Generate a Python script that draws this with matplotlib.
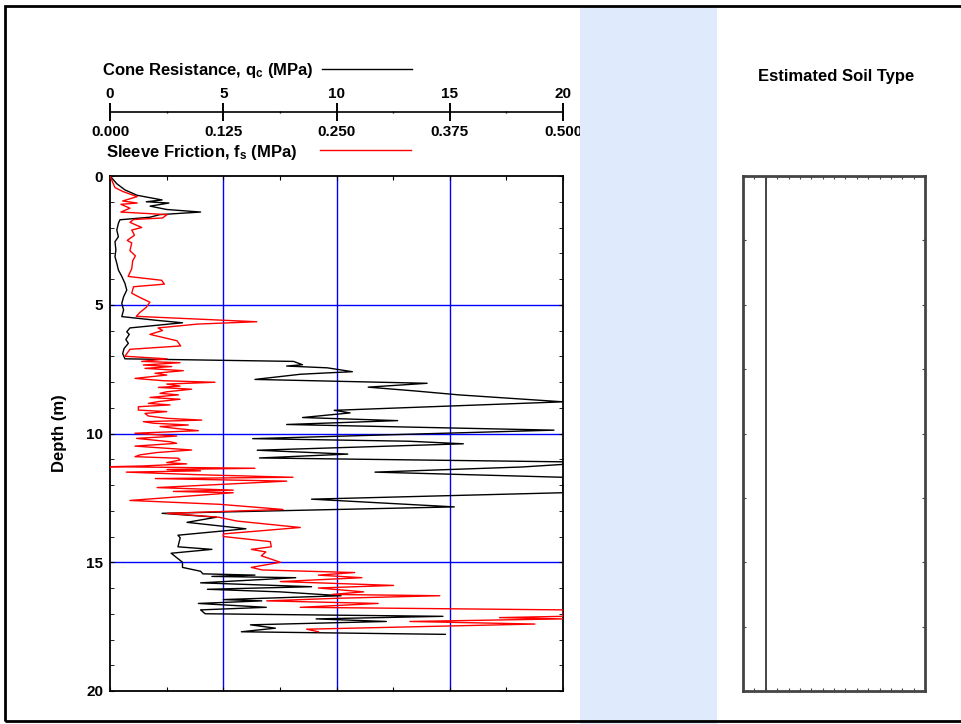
"""CPT log: cone resistance and sleeve friction against depth"""
import matplotlib

matplotlib.use("Agg")
from matplotlib import pyplot as plt
from matplotlib.patches import Rectangle

plt.rcParams["font.family"] = "Liberation Sans"
plt.rcParams["font.weight"] = "bold"
plt.rcParams["mathtext.fontset"] = "custom"
plt.rcParams["mathtext.rm"] = "Liberation Sans:bold"
plt.rcParams["mathtext.it"] = "Liberation Sans:bold"

# Cone resistance qc (MPa) against depth (m)
qc_depth = [
    0.0, 0.3, 0.54, 0.75, 0.93, 1.0, 1.05, 1.17, 1.3, 1.4, 1.5, 1.6, 1.7,
    1.84, 2.1, 2.36, 2.55, 2.87, 3.13, 3.39, 3.65, 3.9, 4.17, 4.43, 4.69,
    4.95, 5.2, 5.46, 5.6, 5.7, 5.9, 6.05, 6.15, 6.35, 6.5, 6.7, 6.9, 7.1,
    7.2, 7.33, 7.38, 7.45, 7.6, 7.65, 7.7, 7.9, 8.05, 8.2, 8.35,
    8.5, 8.77, 9.1, 9.2, 9.38, 9.5, 9.65, 9.87, 10.2, 10.3, 10.4, 10.65,
    10.8, 10.95, 11.1, 11.2, 11.3, 11.5, 11.7, 12.3, 12.55, 12.85, 13.1,
    13.25, 13.45, 13.7, 13.95, 14.05, 14.4, 14.5, 14.65, 15.0, 15.2, 15.35,
    15.45, 15.5, 15.55, 15.6, 15.8, 15.95, 16.05, 16.15, 16.3, 16.45, 16.5,
    16.6, 16.75, 16.85, 17.0, 17.1, 17.2, 17.3, 17.43, 17.56, 17.7, 17.8,
]
qc_value = [
    0.0, 0.3, 0.66, 1.2, 2.3, 1.6, 2.6, 1.77, 2.5, 4.0, 2.2, 1.77, 0.44,
    0.37, 0.3, 0.37, 0.22, 0.26, 0.22, 0.3, 0.37, 0.52, 0.66, 0.74, 0.6,
    0.52, 0.6, 0.52, 2.0, 3.2, 0.88, 0.74, 0.85, 0.7, 0.81, 0.62, 0.56, 0.66,
    8.1, 8.5, 7.8, 9.6, 10.7, 9.5, 8.4, 6.4, 14.0, 11.4, 13.5,
    15.4, 20.0, 9.9, 10.6, 8.5, 12.7, 7.8, 19.6, 6.3, 13.2, 15.6, 6.5,
    10.5, 6.6, 20.0, 20.0, 18.2, 11.7, 20.0, 20.0, 8.9, 15.2, 2.3,
    4.7, 3.4, 6.0, 3.0, 3.1, 3.0, 4.5, 2.7, 3.2, 3.2, 4.0,
    4.1, 6.4, 4.5, 8.2, 4.0, 8.9, 4.3, 7.5, 10.2, 5.0, 6.7,
    3.9, 6.9, 4.0, 4.2, 14.7, 9.1, 12.2, 6.2, 7.3, 5.8, 14.8,
]

# Sleeve friction fs (MPa) against depth (m)
fs_depth = [
    0.0, 0.45, 0.6, 0.8, 0.97, 1.05, 1.1, 1.25, 1.4, 1.5, 1.63, 1.69, 1.8,
    2.0, 2.1, 2.3, 2.5, 2.6, 2.9, 3.1, 3.3, 3.6, 3.9, 4.05, 4.2, 4.3, 4.55,
    4.7, 4.9, 5.1, 5.3, 5.45, 5.66, 5.75, 5.9, 6.0, 6.15, 6.4, 6.6, 6.73,
    7.0, 7.1, 7.2,
    7.25, 7.34, 7.40, 7.47, 7.56, 7.66, 7.73, 7.86, 7.95, 8.01, 8.08, 8.16,
    8.21, 8.28, 8.38, 8.44, 8.50, 8.60, 8.67, 8.76, 8.83, 8.89, 8.96, 9.09,
    9.15, 9.22, 9.32, 9.41, 9.48, 9.54, 9.60, 9.67, 9.73, 9.80, 9.89, 9.99,
    10.10, 10.19, 10.32, 10.38, 10.49, 10.64, 10.74, 10.83, 10.90, 10.96,
    11.03, 11.13, 11.18, 11.26, 11.29, 11.35,
    11.4, 11.45, 11.5, 11.6, 11.7, 11.75, 11.85, 12.1, 12.2, 12.25, 12.3,
    12.6, 12.75, 12.95, 13.1, 13.25, 13.4, 13.65, 13.9, 14.0, 14.2, 14.4,
    14.5, 14.6, 14.75, 15.0, 15.2, 15.3, 15.4, 15.5, 15.6, 15.75, 15.9,
    16.0, 16.15, 16.25, 16.3, 16.4, 16.5, 16.6, 16.75, 16.85, 17.1, 17.15,
    17.2, 17.3, 17.4, 17.6, 17.7,
]
fs_value = [
    0.0, 0.0055, 0.014, 0.03, 0.014, 0.03, 0.012, 0.022, 0.012, 0.063, 0.058, 0.026, 0.022,
    0.035, 0.024, 0.027, 0.019, 0.024, 0.022, 0.028, 0.025, 0.024, 0.02, 0.057, 0.06, 0.026, 0.024,
    0.032, 0.044, 0.04, 0.033, 0.029, 0.162, 0.097, 0.053, 0.058, 0.044, 0.074, 0.078, 0.022,
    0.0165, 0.063, 0.035,
    0.0773, 0.0368, 0.0681, 0.0386, 0.0809, 0.0497, 0.0626, 0.0276, 0.0589, 0.1159, 0.0626, 0.0773,
    0.0534, 0.0901, 0.0626, 0.0552, 0.0754, 0.0442, 0.0773, 0.0534, 0.0423, 0.0662, 0.0313, 0.0313,
    0.0626, 0.0386, 0.0423, 0.0626, 0.1012, 0.0368, 0.0478, 0.0864, 0.0552, 0.0717, 0.0975, 0.0276,
    0.0736, 0.0294, 0.0662, 0.0736, 0.0276, 0.0901, 0.0515, 0.0331, 0.0276, 0.0754,
    0.0773, 0.0626, 0.0846, 0.0368, 0.0, 0.160,
    0.063, 0.1, 0.018, 0.097, 0.202, 0.05, 0.195, 0.052, 0.136, 0.07, 0.136,
    0.022, 0.121, 0.191, 0.063, 0.12, 0.14, 0.21, 0.125, 0.125, 0.177, 0.178,
    0.156, 0.172, 0.167, 0.188, 0.156, 0.168, 0.27, 0.23, 0.278, 0.188, 0.313,
    0.23, 0.28, 0.245, 0.364, 0.25, 0.173, 0.296, 0.21, 0.5, 0.5, 0.43,
    0.5, 0.331, 0.469, 0.217, 0.23,
]

qc_ticks = [0, 5, 10, 15, 20]
fs_ticks = [0.0, 0.125, 0.25, 0.375, 0.5]
fs_labels = ["0.000", "0.125", "0.250", "0.375", "0.500"]
depth_ticks = [0, 5, 10, 15, 20]
QC_MAX, FS_MAX, DEPTH_MAX = 20, 0.5, 20

W_PX, H_PX = 961, 724
fig = plt.figure(figsize=(W_PX / 100, H_PX / 100), dpi=100)


def fx(px):
    return px / W_PX


def fy(py):
    return 1 - py / H_PX


# main log panel
ax_left, ax_right, ax_top, ax_bot = 110, 563, 176, 691
ax = fig.add_axes([fx(ax_left), fy(ax_bot), fx(ax_right - ax_left), (ax_bot - ax_top) / H_PX])
ax.set_xlim(0, QC_MAX)
ax.set_ylim(DEPTH_MAX, 0)
for v in qc_ticks[1:-1]:
    ax.axvline(v, color="#0000ff", lw=1.0, zorder=1)
for d in depth_ticks[1:-1]:
    ax.axhline(d, color="#0000ff", lw=1.0, zorder=1)

ax_fs = ax.twiny()
ax_fs.set_xlim(0, FS_MAX)
ax_fs.plot(fs_value, fs_depth, color="red", lw=1.0, zorder=2)
ax_fs.axis("off")

ax.plot(qc_value, qc_depth, color="black", lw=1.0, zorder=3)

ax.set_xticks([i * 2.5 for i in range(9)])
ax.set_xticklabels([])
ax.set_yticks(depth_ticks)
ax.set_yticks(range(0, 21), minor=True)
ax.tick_params(axis="x", which="both", direction="in", length=3, top=True, bottom=True)
ax.tick_params(axis="y", which="both", direction="in", length=3, left=True, right=True,
               labelsize=11, pad=5)
for s in ax.spines.values():
    s.set_linewidth(1.3)
ax.set_ylabel("Depth (m)", fontsize=12, fontweight="bold", labelpad=14)

# scale bar for both quantities above the log
ax_sc = fig.add_axes([fx(ax_left), fy(112), fx(ax_right - ax_left), 1e-6])
ax_sc.set_xlim(0, QC_MAX)
for name in ["top", "left", "right"]:
    ax_sc.spines[name].set_visible(False)
ax_sc.spines["bottom"].set_linewidth(1.2)
ax_sc.set_yticks([])
ax_sc.set_xticks(qc_ticks)
ax_sc.set_xticks([i * 2.5 for i in range(9)], minor=True)
ax_sc.tick_params(axis="x", which="major", direction="inout", length=13, width=1.2,
                  top=True, bottom=True, labeltop=True, labelbottom=False,
                  labelsize=11, pad=1.5)
ax_sc.tick_params(axis="x", which="minor", direction="inout", length=2, width=1)
ax_sc.patch.set_visible(False)

sec = ax_sc.secondary_xaxis("bottom", functions=(lambda q: q * FS_MAX / QC_MAX,
                                                 lambda f: f * QC_MAX / FS_MAX))
sec.set_xticks(fs_ticks, labels=fs_labels)
sec.spines["bottom"].set_visible(False)
sec.tick_params(axis="x", length=0, labelsize=11, pad=9)

fig.text(fx(102), fy(71), r"Cone Resistance, q$_\mathrm{c}$ (MPa)", fontsize=12,
         ha="left", va="center")
fig.add_artist(plt.Line2D([fx(322), fx(412)], [fy(69), fy(69)], color="black", lw=1))
fig.text(fx(106), fy(152), r"Sleeve Friction, f$_\mathrm{s}$ (MPa)", fontsize=12,
         ha="left", va="center")
fig.add_artist(plt.Line2D([fx(320), fx(411)], [fy(150), fy(150)], color="red", lw=1))

# blank soil type column
soil_left, soil_right = 743, 925
ax_soil = fig.add_axes([fx(soil_left), fy(ax_bot), fx(soil_right - soil_left),
                        (ax_bot - ax_top) / H_PX])
ax_soil.set_xlim(0, 16)
ax_soil.set_ylim(DEPTH_MAX, 0)
ax_soil.axvline(2, color="#444444", lw=1.4)
ax_soil.set_xticks(range(0, 17))
ax_soil.set_yticks([i * 2.5 for i in range(9)])
ax_soil.tick_params(which="both", direction="in", length=2.5, color="#444444",
                    top=True, bottom=True, left=True, right=True,
                    labelbottom=False, labelleft=False)
for s in ax_soil.spines.values():
    s.set_linewidth(2)
    s.set_edgecolor("#444444")
fig.text(fx(836), fy(77), "Estimated Soil Type", fontsize=12, ha="center", va="center")

# shaded column and outer frame
fig.add_artist(Rectangle((fx(580), 0), fx(717 - 580), fy(6), facecolor="#dfebfd",
                         edgecolor="none", zorder=5))
fig.add_artist(Rectangle((fx(5), fy(721)), 1.2, fy(6) - fy(721), facecolor="none",
                         edgecolor="black", lw=2, zorder=6))

fig.savefig("out.png", dpi=100)
